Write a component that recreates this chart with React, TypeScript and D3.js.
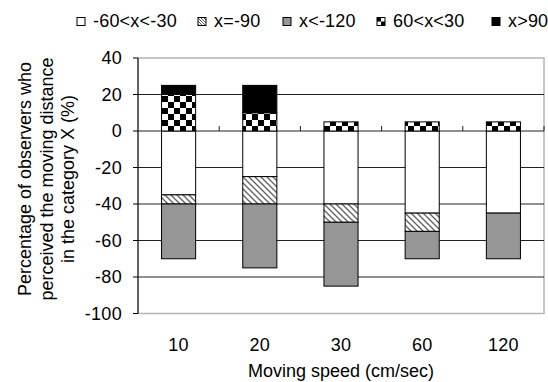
import React from "react";
import * as d3 from "d3";

const categories = ["10", "20", "30", "60", "120"];
const seriesNames = ["-60<x<-30", "x=-90", "x<-120", "60<x<30", "x>90"];
// negative side (stacked downward from 0)
const whiteVals = [35, 25, 40, 45, 45];
const hatchVals = [5, 15, 10, 10, 0];
const grayVals = [30, 35, 35, 15, 25];
// positive side (stacked upward from 0)
const checkerVals = [20, 10, 5, 5, 5];
const blackVals = [5, 15, 0, 0, 0];
const yTicks = [40, 20, 0, -20, -40, -60, -80, -100];

const W = 548;
const H = 382;
const left = 138;
const right = 544;
const top = 58;
const bottom = 313.5;
const FONT = "'Liberation Sans', Arial, sans-serif";

const fills = ["#ffffff", "url(#hatch)", "#969696", "url(#checker)", "#000000"];
const legendFills = ["#ffffff", "url(#hatchSmall)", "#969696", "url(#checkerSmall)", "#000000"];
const legendX = [77, 198, 283, 377, 492];
const legendY = 17.5;

export default function App() {
  const x = d3
    .scaleBand<string>()
    .domain(categories)
    .range([left, right])
    .paddingInner(0.58)
    .paddingOuter(0.29);
  const y = d3.scaleLinear().domain([-100, 40]).range([bottom, top]);
  const step = x.step();

  type Seg = { cat: string; y0: number; y1: number; fill: string; key: string };
  const segs: Seg[] = [];
  categories.forEach((c, i) => {
    let acc = 0;
    const neg = [whiteVals[i], hatchVals[i], grayVals[i]];
    neg.forEach((v, k) => {
      if (v > 0) segs.push({ cat: c, y0: -acc, y1: -(acc + v), fill: fills[k], key: c + "n" + k });
      acc += v;
    });
    acc = 0;
    const pos = [checkerVals[i], blackVals[i]];
    pos.forEach((v, k) => {
      if (v > 0) segs.push({ cat: c, y0: acc, y1: acc + v, fill: fills[3 + k], key: c + "p" + k });
      acc += v;
    });
  });

  const boundaries = d3.range(1, categories.length + 1).map((i) => left + i * step);

  return (
    <svg
      width={W}
      height={H}
      style={{ position: "absolute", left: 0, top: 0, background: "#fff" }}
      fontFamily={FONT}
    >
      <defs>
        <pattern id="checker" width={12} height={12} patternUnits="userSpaceOnUse" x={0} y={0}>
          <rect width={12} height={12} fill="#fff" />
          <rect x={6} y={0} width={6} height={6} fill="#000" />
          <rect x={0} y={6} width={6} height={6} fill="#000" />
        </pattern>
        <pattern id="checkerSmall" width={8} height={8} patternUnits="userSpaceOnUse" x={legendX[3]} y={legendY}>
          <rect width={8} height={8} fill="#fff" />
          <rect x={0} y={0} width={4} height={4} fill="#000" />
          <rect x={4} y={4} width={4} height={4} fill="#000" />
        </pattern>
        <pattern id="hatch" width={6} height={6} patternUnits="userSpaceOnUse">
          <rect width={6} height={6} fill="#fff" />
          <path d="M0,0 L6,6 M-1,5 L1,7 M5,-1 L7,1" stroke="#606060" strokeWidth={1.3} />
        </pattern>
        <pattern id="hatchSmall" width={3} height={3} patternUnits="userSpaceOnUse">
          <rect width={3} height={3} fill="#fff" />
          <path d="M0,0 L3,3 M-1,2 L1,4 M2,-1 L4,1" stroke="#606060" strokeWidth={1} />
        </pattern>
      </defs>

      {/* plot border */}
      <rect x={left} y={top} width={right - left} height={bottom - top} fill="none" stroke="#b4b4b4" strokeWidth={1.5} />

      {/* gridlines */}
      {yTicks
        .filter((t) => t !== 40 && t !== -100)
        .map((t) => (
          <line key={"g" + t} x1={left} x2={right} y1={y(t)} y2={y(t)} stroke="#222" strokeWidth={1} />
        ))}

      {/* x-axis category ticks on zero line */}
      {boundaries.map((b, i) => (
        <line key={"xt" + i} x1={b} x2={b} y1={y(0)} y2={y(0) - 5} stroke="#222" strokeWidth={1} />
      ))}

      {/* bars */}
      {segs.map((s) => (
        <rect
          key={s.key}
          x={x(s.cat)!}
          width={x.bandwidth()}
          y={y(Math.max(s.y0, s.y1))}
          height={Math.abs(y(s.y0) - y(s.y1))}
          fill={s.fill}
          stroke="#000"
          strokeWidth={1}
        />
      ))}

      {/* left axis */}
      <line x1={left} x2={left} y1={top} y2={bottom} stroke="#000" strokeWidth={1} />
      {yTicks.map((t) => (
        <g key={"yt" + t}>
          <line x1={left - 5} x2={left} y1={y(t)} y2={y(t)} stroke="#000" strokeWidth={1} />
          <text x={122} y={y(t)} dy="0.36em" textAnchor="end" fontSize={18} letterSpacing={0.3} fill="#000">
            {t}
          </text>
        </g>
      ))}

      {/* x labels */}
      {categories.map((c) => (
        <text key={"xl" + c} x={x(c)! + x.bandwidth() / 2} y={351} textAnchor="middle" fontSize={18} letterSpacing={0.3} fill="#000">
          {c}
        </text>
      ))}
      <text x={(left + right) / 2} y={377} textAnchor="middle" fontSize={18} fill="#000">
        Moving speed (cm/sec)
      </text>

      {/* y label */}
      <g transform="translate(0,179) rotate(-90)">
        <text x={0} y={31} textAnchor="middle" fontSize={18} fill="#000">
          Percentage of observers who
        </text>
        <text x={0} y={52.5} textAnchor="middle" fontSize={18} fill="#000">
          perceived the moving distance
        </text>
        <text x={0} y={74} textAnchor="middle" fontSize={18} fill="#000">
          in the category X (%)
        </text>
      </g>

      {/* legend */}
      {seriesNames.map((n, i) => (
        <g key={"lg" + i}>
          <rect x={legendX[i]} y={legendY} width={8} height={8} fill={legendFills[i]} stroke="#000" strokeWidth={1} />
          <text x={legendX[i] + 16} y={27} fontSize={18} letterSpacing={0.2} fill="#000">
            {n}
          </text>
        </g>
      ))}
    </svg>
  );
}
